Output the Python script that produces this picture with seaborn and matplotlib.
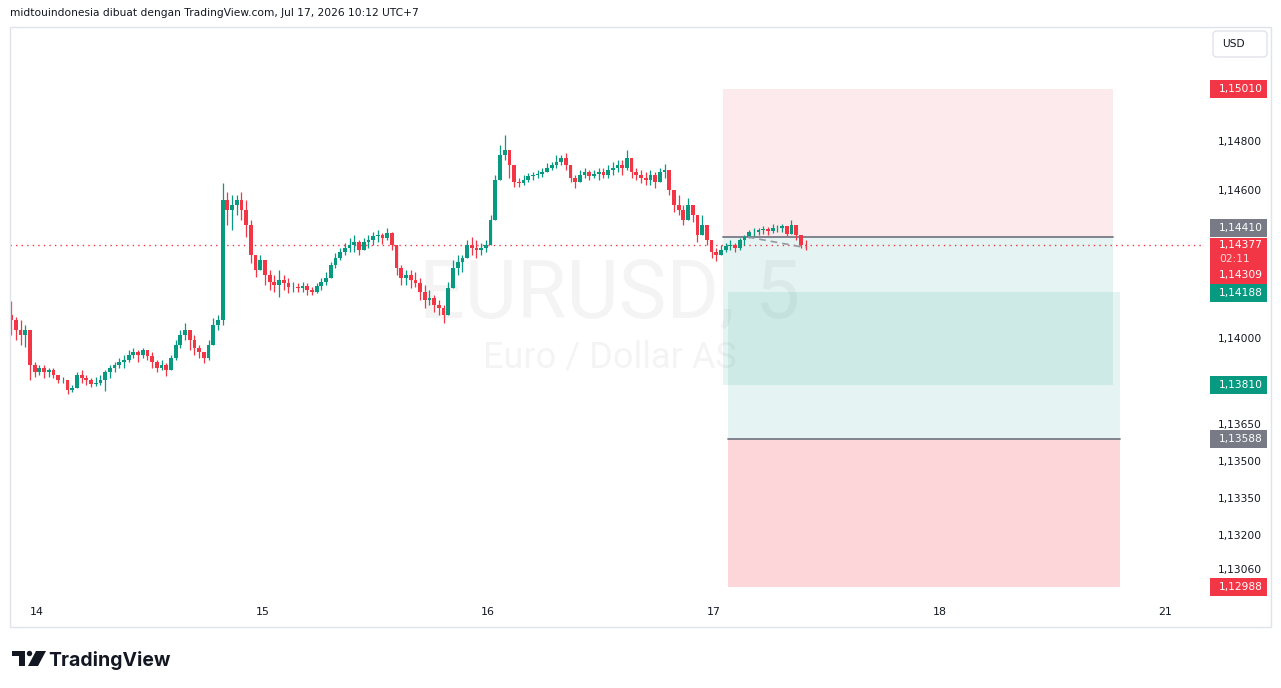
import numpy as np
import pandas as pd
import matplotlib
matplotlib.use("Agg")
import matplotlib.pyplot as plt
import seaborn as sns
from matplotlib.patches import Rectangle, FancyBboxPatch, Polygon, Circle

# ---------------- data (30-minute bars, EURUSD) ----------------
first_open = 1.14093
close_p = [1.14073, 1.14032, 1.14012, 1.14032, 1.13890, 1.13862, 1.13878, 1.13862, 1.13870, 1.13850,
           1.13829, 1.13829, 1.13789, 1.13797, 1.13850, 1.13838, 1.13829, 1.13813, 1.13817, 1.13829,
           1.13862, 1.13878, 1.13890, 1.13903, 1.13911, 1.13931, 1.13943, 1.13931, 1.13951, 1.13927,
           1.13903, 1.13878, 1.13890, 1.13870, 1.13919, 1.13972, 1.14012, 1.14032, 1.13992, 1.13959,
           1.13943, 1.13919, 1.13972, 1.14053, 1.14073, 1.14560, 1.14520, 1.14540, 1.14560, 1.14520,
           1.14459, 1.14337, 1.14276, 1.14317, 1.14256, 1.14227, 1.14215, 1.14236, 1.14223, 1.14207,
           1.14207, 1.14203, 1.14211, 1.14195, 1.14187, 1.14211, 1.14227, 1.14244, 1.14296, 1.14325,
           1.14349, 1.14365, 1.14378, 1.14390, 1.14357, 1.14390, 1.14398, 1.14414, 1.14418, 1.14406,
           1.14426, 1.14378, 1.14284, 1.14244, 1.14256, 1.14236, 1.14223, 1.14187, 1.14154, 1.14162,
           1.14134, 1.14122, 1.14093, 1.14203, 1.14284, 1.14309, 1.14325, 1.14378, 1.14365, 1.14357,
           1.14365, 1.14378, 1.14479, 1.14642, 1.14743, 1.14763, 1.14703, 1.14634, 1.14630, 1.14642,
           1.14658, 1.14662, 1.14666, 1.14674, 1.14690, 1.14703, 1.14715, 1.14731, 1.14703, 1.14650,
           1.14634, 1.14662, 1.14674, 1.14658, 1.14666, 1.14674, 1.14662, 1.14682, 1.14690, 1.14703,
           1.14690, 1.14731, 1.14674, 1.14662, 1.14650, 1.14642, 1.14662, 1.14634, 1.14674, 1.14682,
           1.14601, 1.14540, 1.14520, 1.14479, 1.14540, 1.14499, 1.14418, 1.14459, 1.14398, 1.14349,
           1.14337, 1.14357, 1.14374, 1.14378, 1.14365, 1.14398, 1.14410, 1.14430, 1.14430, 1.14439,
           1.14443, 1.14435, 1.14447, 1.14447, 1.14455, 1.14422, 1.14459, 1.14418, 1.14378, 1.14377]
high_p = [1.14150, 1.14085, 1.14073, 1.14053, 1.14032, 1.13903, 1.13890, 1.13890, 1.13878, 1.13878,
          1.13850, 1.13842, 1.13817, 1.13809, 1.13862, 1.13870, 1.13850, 1.13838, 1.13842, 1.13850,
          1.13870, 1.13890, 1.13903, 1.13919, 1.13931, 1.13951, 1.13959, 1.13951, 1.13959, 1.13951,
          1.13943, 1.13911, 1.13911, 1.13898, 1.13931, 1.13992, 1.14032, 1.14061, 1.14020, 1.14012,
          1.13972, 1.13943, 1.13992, 1.14081, 1.14093, 1.14630, 1.14593, 1.14581, 1.14581, 1.14593,
          1.14560, 1.14479, 1.14329, 1.14337, 1.14317, 1.14276, 1.14256, 1.14276, 1.14256, 1.14244,
          1.14227, 1.14223, 1.14227, 1.14223, 1.14207, 1.14223, 1.14244, 1.14268, 1.14309, 1.14345,
          1.14365, 1.14386, 1.14406, 1.14418, 1.14398, 1.14406, 1.14418, 1.14430, 1.14439, 1.14426,
          1.14447, 1.14430, 1.14378, 1.14296, 1.14276, 1.14276, 1.14268, 1.14244, 1.14215, 1.14195,
          1.14175, 1.14154, 1.14134, 1.14227, 1.14317, 1.14337, 1.14337, 1.14398, 1.14410, 1.14398,
          1.14386, 1.14398, 1.14499, 1.14662, 1.14784, 1.14824, 1.14763, 1.14703, 1.14650, 1.14662,
          1.14670, 1.14674, 1.14682, 1.14690, 1.14711, 1.14715, 1.14743, 1.14743, 1.14751, 1.14703,
          1.14662, 1.14682, 1.14690, 1.14682, 1.14682, 1.14690, 1.14690, 1.14703, 1.14715, 1.14723,
          1.14723, 1.14763, 1.14731, 1.14690, 1.14682, 1.14674, 1.14682, 1.14674, 1.14690, 1.14707,
          1.14682, 1.14601, 1.14581, 1.14540, 1.14568, 1.14540, 1.14487, 1.14499, 1.14459, 1.14398,
          1.14365, 1.14378, 1.14386, 1.14398, 1.14386, 1.14406, 1.14418, 1.14439, 1.14447, 1.14447,
          1.14455, 1.14451, 1.14463, 1.14459, 1.14463, 1.14455, 1.14479, 1.14459, 1.14418, 1.14398]
low_p = [1.14012, 1.13992, 1.13972, 1.13963, 1.13829, 1.13842, 1.13850, 1.13838, 1.13842, 1.13838,
         1.13817, 1.13817, 1.13773, 1.13781, 1.13809, 1.13817, 1.13809, 1.13801, 1.13805, 1.13809,
         1.13785, 1.13838, 1.13862, 1.13878, 1.13878, 1.13903, 1.13919, 1.13903, 1.13919, 1.13911,
         1.13878, 1.13862, 1.13870, 1.13846, 1.13870, 1.13911, 1.13959, 1.13992, 1.13951, 1.13931,
         1.13919, 1.13898, 1.13911, 1.13972, 1.14032, 1.14053, 1.14459, 1.14439, 1.14499, 1.14479,
         1.14410, 1.14305, 1.14248, 1.14276, 1.14215, 1.14195, 1.14187, 1.14166, 1.14195, 1.14183,
         1.14187, 1.14187, 1.14187, 1.14175, 1.14175, 1.14183, 1.14195, 1.14215, 1.14244, 1.14284,
         1.14317, 1.14337, 1.14349, 1.14349, 1.14337, 1.14357, 1.14365, 1.14378, 1.14390, 1.14382,
         1.14398, 1.14357, 1.14256, 1.14215, 1.14215, 1.14203, 1.14207, 1.14154, 1.14122, 1.14134,
         1.14105, 1.14093, 1.14061, 1.14105, 1.14215, 1.14256, 1.14268, 1.14325, 1.14337, 1.14325,
         1.14337, 1.14349, 1.14378, 1.14479, 1.14642, 1.14723, 1.14650, 1.14613, 1.14613, 1.14621,
         1.14634, 1.14642, 1.14650, 1.14654, 1.14674, 1.14682, 1.14690, 1.14703, 1.14682, 1.14634,
         1.14609, 1.14634, 1.14650, 1.14642, 1.14650, 1.14642, 1.14650, 1.14650, 1.14662, 1.14674,
         1.14662, 1.14682, 1.14650, 1.14642, 1.14630, 1.14621, 1.14621, 1.14609, 1.14642, 1.14650,
         1.14581, 1.14512, 1.14499, 1.14459, 1.14499, 1.14471, 1.14390, 1.14418, 1.14378, 1.14325,
         1.14313, 1.14337, 1.14349, 1.14357, 1.14349, 1.14357, 1.14378, 1.14406, 1.14414, 1.14418,
         1.14422, 1.14418, 1.14426, 1.14430, 1.14430, 1.14414, 1.14430, 1.14398, 1.14365, 1.14357]

day_labels = ["14", "15", "16", "17", "18", "21"]
day_hours = [0, 24, 48, 72, 96, 120]          # axis hours (trading time) of each day label
price_ticks = [1.14800, 1.14600, 1.14000, 1.13650, 1.13500, 1.13350, 1.13200, 1.13060]
last_price = 1.14377
countdown = "02:11"

# two position tools (hours on the axis, prices)
pos1_t = (73.0, 114.5); pos1_entry, pos1_stop, pos1_target = 1.14410, 1.15010, 1.13810
pos2_t = (73.5, 115.2); pos2_entry, pos2_stop, pos2_target = 1.13588, 1.12988, 1.14188
extra_label = 1.14309

GREEN = "#089981"
RED = "#f23645"
GRAY = "#787b86"
TXT = "#131722"

# ---------------- build ----------------
times = pd.date_range("2026-07-13 21:00", periods=len(close_p), freq="30min")
t = ((times - pd.Timestamp("2026-07-14 00:00")) / pd.Timedelta(hours=1)).to_numpy() + 0.25
c = np.array(close_p)
o = np.concatenate([[first_open], c[:-1]])
h = np.maximum.reduce([np.array(high_p), o, c])
l = np.minimum.reduce([np.array(low_p), o, c])
up = c >= o
cols = np.where(up, GREEN, RED)

sns.set_theme(style="white")
plt.rcParams["font.family"] = ["DejaVu Sans"]

W, H = 1281, 688
fig = plt.figure(figsize=(W / 100, H / 100), dpi=100)
fig.patch.set_facecolor("white")
PX = fig.dpi_scale_trans


def P(x, y):
    return (x / 100.0, (H - y) / 100.0)


ax = fig.add_axes([10 / W, 1 - 600 / H, (1205 - 10) / W, (600 - 28) / H])
ax.set_facecolor("white")
ax.set_xlim(-2.871, 124.24)
ax.set_ylim(1.12936, 1.152589)
for s in ax.spines.values():
    s.set_visible(False)

# watermark
ax.text(0.502, 0.493, "EURUSD, 5", transform=ax.transAxes, ha="center", va="baseline",
        fontsize=58, color=TXT, alpha=0.045, family="Roboto", zorder=0)
ax.text(0.502, 0.4056, "Euro / Dollar AS", transform=ax.transAxes, ha="center", va="baseline",
        fontsize=26, color=TXT, alpha=0.045, family="Roboto", zorder=0)

# position tools
def box(t0, t1, p0, p1, color, alpha):
    ax.add_patch(Rectangle((t0, min(p0, p1)), t1 - t0, abs(p1 - p0), facecolor=color,
                           alpha=alpha, edgecolor="none", zorder=1))

box(*pos1_t, pos1_entry, pos1_stop, RED, 0.10)
box(*pos1_t, pos1_entry, pos1_target, GREEN, 0.10)
box(*pos2_t, pos2_entry, pos2_target, GREEN, 0.10)
box(*pos2_t, pos2_entry, pos2_stop, RED, 0.20)
ax.plot(pos1_t, [pos1_entry, pos1_entry], color=GRAY, lw=1.3, zorder=2)
ax.plot(pos2_t, [pos2_entry, pos2_entry], color=GRAY, lw=1.3, zorder=2)

# current price line
ax.axhline(last_price, color=RED, lw=1.0, ls=(0, (1, 3)), zorder=2)

# candles
ax.vlines(t, l, h, colors=cols, lw=0.9, zorder=3)
ax.bar(t, c - o, bottom=o, width=0.40, color=cols, lw=0, zorder=4)

# projection dashed line of the open position
ax.plot([75.6, t[-1]], [pos1_entry, c[-1] - 0.0001], color="#9598a1", lw=1.2,
        ls=(0, (4, 3)), zorder=5)

# axes ticks
ax.yaxis.tick_right()
ax.set_yticks(price_ticks)
ax.set_yticklabels([f"{v:.5f}".replace(".", ",") for v in price_ticks])
ax.tick_params(axis="y", length=0, pad=9.5, labelsize=7.7, labelcolor=TXT)
ax.set_xticks(day_hours)
ax.set_xticklabels(day_labels)
ax.tick_params(axis="x", length=0, pad=5, labelsize=7.9, labelcolor=TXT)
ax.grid(False)

# frame
fig.patches.append(Rectangle(P(10, 627), 12.61, 6.00, fill=False, edgecolor="#e0e3eb",
                             lw=1, transform=PX, figure=fig))

# price badges
def ypix(price):
    return H - ax.transData.transform((0, price))[1]


def badge_rect(ytop, ybot, bg):
    fig.patches.append(Rectangle(P(1210, ybot), 0.57, (ybot - ytop) / 100, facecolor=bg,
                                 edgecolor="none", transform=PX, figure=fig, zorder=5))


def badge_text(yc, text, alpha=1.0):
    fig.text(1219 / W, 1 - yc / H, text, ha="left", va="center", fontsize=7.7,
             color="white", alpha=alpha, zorder=6)


def badge(yc, text, bg, h_=18):
    badge_rect(yc - h_ / 2, yc + h_ / 2, bg)
    badge_text(yc, text)


badge(ypix(pos1_stop), "1,15010", RED)
badge(ypix(pos1_entry) - 9, "1,14410", GRAY)
y_last = ypix(last_price)
y_extra = ypix(extra_label) + 13
badge_rect(y_last - 7, y_extra + 9, RED)
badge_text(y_last, f"{last_price:.5f}".replace(".", ","))
badge_text(y_last + 13.5, countdown, alpha=0.8)
badge_text(y_extra, f"{extra_label:.5f}".replace(".", ","))
badge(ypix(pos2_target) + 1, "1,14188", GREEN)
badge(ypix(pos1_target), "1,13810", GREEN)
badge(ypix(pos2_entry), "1,13588", GRAY)
badge(ypix(pos2_stop), "1,12988", RED)

# currency box
fig.patches.append(FancyBboxPatch(P(1213, 57), 0.54, 0.26,
                                  boxstyle="round,pad=0,rounding_size=0.04",
                                  facecolor="white", edgecolor="#e0e3eb", lw=1,
                                  transform=PX, figure=fig))
fig.text(1222 / W, 1 - 44 / H, "USD", ha="left", va="center", fontsize=7.7, color=TXT)

# header
fig.text(10 / W, 1 - 13 / H,
         "midtouindonesia dibuat dengan TradingView.com, Jul 17, 2026 10:12 UTC+7",
         ha="left", va="center", fontsize=7.7, color=TXT)

# TradingView logo
logo_col = "#131722"
fig.patches.append(Polygon([P(12, 651), P(25, 651), P(25, 666), P(19, 666), P(19, 656), P(12, 656)],
                           closed=True, facecolor=logo_col, edgecolor="none",
                           transform=PX, figure=fig))
fig.patches.append(Circle(P(29.5, 653.5), 0.027, facecolor=logo_col, edgecolor="none",
                          transform=PX, figure=fig))
fig.patches.append(Polygon([P(36, 651), P(46, 651), P(38, 666), P(28, 666)], closed=True,
                           facecolor=logo_col, edgecolor="none", transform=PX, figure=fig))
fig.text(48 / W, 1 - 666 / H, "TradingView", ha="left", va="baseline", fontsize=14,
         fontweight="bold", family=["Inter", "DejaVu Sans"], color=logo_col)

fig.savefig("out.png", dpi=100, facecolor="white")
